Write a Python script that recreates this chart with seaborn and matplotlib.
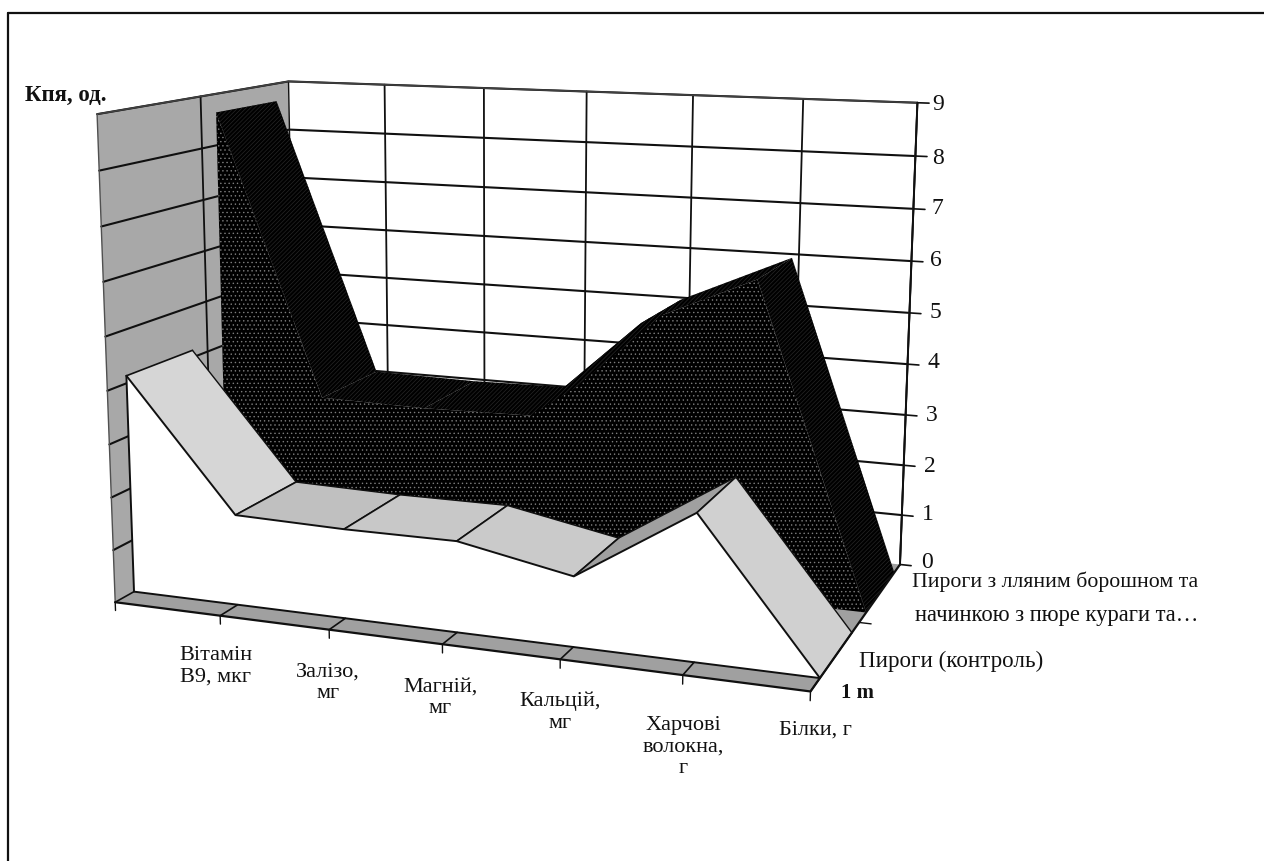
import numpy as np
import matplotlib
matplotlib.use('Agg')
import matplotlib.pyplot as plt
from matplotlib.lines import Line2D
from mpl_toolkits.mplot3d.art3d import Poly3DCollection
import seaborn as sns

# ---- data ----
categories = ['', 'Вітамін\nВ9, мкг', 'Залізо,\nмг', 'Магній,\nмг', 'Кальцій,\nмг',
              'Харчові\nволокна,\nг', 'Білки, г']
control = [4.14, 1.71, 1.67, 1.68, 1.28, 2.64, 0.0]
flax = [8.64, 3.12, 3.09, 3.13, 5.07, 6.02, 0.0]
z_ticks = list(range(0, 10))
series_names = ['Пироги з лляним борошном та', 'начинкою з пюре кураги та…', 'Пироги (контроль)']

sns.set_theme(style='white', rc={'hatch.linewidth': 0.5})
plt.rcParams['font.family'] = ['Liberation Serif', 'DejaVu Serif']

W, H = 1264, 861
fig = plt.figure(figsize=(W/100, H/100), dpi=100, facecolor='white')
ax = fig.add_subplot(projection='3d', computed_zorder=False)
ax.set_axis_off()
ax.patch.set_visible(False)

nx = len(categories) - 1
ax.set_xlim(0, nx, view_margin=0)
ax.set_ylim(0, 1, view_margin=0)
ax.set_zlim(0, 9, view_margin=0)
ax.view_init(elev=11.652, azim=-69.328, roll=-0.082)
ax.set_box_aspect((1, 0.575, 0.688), zoom=2.245)

A, CX, CY = 2209.8, 519.0, 350.8
vl = ax.viewLim
side = A*vl.width
left = CX + A*vl.x0
bottom = (H - CY) + A*vl.y0
ax.set_position([left/W, bottom/H, side/W, side/H])

Y_W0, Y_W1, Y_B0, Y_B1 = 0.09, 0.42, 0.58, 0.925
xs = np.arange(nx + 1)
zo = [0]


def poly(verts, face, edge='none', lw=0.0, hatch=None):
    zo[0] += 1
    c = Poly3DCollection([verts], facecolors=face, edgecolors=edge, linewidths=lw,
                         hatch=hatch, zorder=zo[0], clip_on=False)
    ax.add_collection3d(c)
    c.set_clip_on(False)
    return c


def line(x, y, z, lw=1.4, color='#101010'):
    zo[0] += 1
    ax.plot(x, y, z, color=color, lw=lw, zorder=zo[0], clip_on=False,
            solid_capstyle='round', solid_joinstyle='round')


WALL, DOT, STRIPE = '#a8a8a8', '#7c7c7c', '#262626'

# walls and floor
poly([(0, 0, 0), (0, 1, 0), (0, 1, 9), (0, 0, 9)], WALL)
poly([(0, 1, 0), (nx, 1, 0), (nx, 1, 9), (0, 1, 9)], 'white')
poly([(0, 0, 0), (nx, 0, 0), (nx, 1, 0), (0, 1, 0)], '#a0a0a0')

# grid
for z in z_ticks[1:]:
    line([0, 0, nx], [0, 1, 1], [z, z, z], lw=1.5)
for x in xs[1:]:
    line([x, x], [1, 1], [0, 9], lw=1.3)
line([0, 0], [.5, .5], [0, 9], lw=1.3)
line([0, 0], [1, 1], [0, 9], lw=1.0)
line([0, 0, nx, nx], [0, 1, 1, 1], [9, 9, 9, 0], lw=1.2, color='#404040')
line([0, 0], [0, 0], [0, 9], lw=1.0, color='#505050')

# back series (flax): front face, then ridge surfaces
poly([(xs[0], Y_B0, 0)] + [(x, Y_B0, v) for x, v in zip(xs, flax)] + [(xs[-1], Y_B0, 0)],
     'black', edge=DOT, hatch='....')
for i in range(nx):
    poly([(xs[i], Y_B0, flax[i]), (xs[i+1], Y_B0, flax[i+1]),
          (xs[i+1], Y_B1, flax[i+1]), (xs[i], Y_B1, flax[i])],
         'black', edge=STRIPE, hatch='////////')

# front series (control): surfaces, then front face
tops = ['#d6d6d6', '#c0c0c0', '#c8c8c8', '#cacaca', '#a0a0a0', '#d0d0d0']
for i in range(nx):
    v = [(xs[i], Y_W0, control[i]), (xs[i+1], Y_W0, control[i+1]),
         (xs[i+1], Y_W1, control[i+1]), (xs[i], Y_W1, control[i])]
    poly(v, tops[i])
    line([xs[i], xs[i]], [Y_W0, Y_W1], [control[i], control[i]], lw=1.2)
    line([xs[i+1], xs[i+1]], [Y_W0, Y_W1], [control[i+1], control[i+1]], lw=1.2)
line(xs, [Y_W1]*len(xs), control, lw=1.0)
poly([(xs[0], Y_W0, 0)] + [(x, Y_W0, v) for x, v in zip(xs, control)] + [(xs[-1], Y_W0, 0)],
     'white')
line(xs, [Y_W0]*len(xs), control, lw=1.4)
line([0, 0, nx, nx], [Y_W0]*4, [control[0], 0, 0, 0], lw=1.4)

# front edge of floor, ticks
line([0, nx, nx], [0, 0, 1], [0, 0, 0], lw=1.6)
for x in xs:
    line([x, x], [0, Y_W0], [0, 0], lw=1.2)
    line([x, x], [0, 0], [0, -0.16], lw=1.0)
line([nx, nx], [1, 1], [0, 9], lw=1.4)
for z in z_ticks:
    line([nx, nx + 0.1], [1, 1], [z, z], lw=1.2)
line([nx, nx + 0.1], [.5, .5], [0, 0], lw=1.0)


def txt(px, py, s, **kw):
    kw.setdefault('ha', 'center')
    kw.setdefault('va', 'center')
    kw.setdefault('fontsize', 16)
    kw.setdefault('color', '#111111')
    fig.text(px/W, 1 - py/H, s, **kw)


cat_xy = [(216, 666), (328, 683), (440, 698), (560, 712), (683, 747), (815, 730)]
for (px, py), s in zip(cat_xy, categories[1:]):
    txt(px, py, s, linespacing=1.2)
num_x = [927, 928, 930, 932, 933, 935, 936, 937, 938, 938]
num_y = [563, 514, 466, 415, 363, 312, 261, 208, 158, 105]
for px, py, z in zip(num_x, num_y, z_ticks):
    txt(px, py, str(z), fontsize=17)
txt(1055, 582, series_names[0], fontsize=15.7)
txt(1057, 615, series_names[1], fontsize=16.3)
txt(951, 661, series_names[2], fontsize=16.6)
txt(858, 693, '1 m', fontweight='bold', fontsize=15)
txt(66, 95, 'Кпя, од.', fontweight='bold', fontsize=16.5)

# frame of the picture: top and left edges only
fig.add_artist(Line2D([8/W, 1], [1 - 13/H, 1 - 13/H], transform=fig.transFigure,
                      color='#111111', lw=1.6))
fig.add_artist(Line2D([8/W, 8/W], [0, 1 - 13/H], transform=fig.transFigure,
                      color='#111111', lw=1.6))
fig.savefig('out.png', dpi=100)
